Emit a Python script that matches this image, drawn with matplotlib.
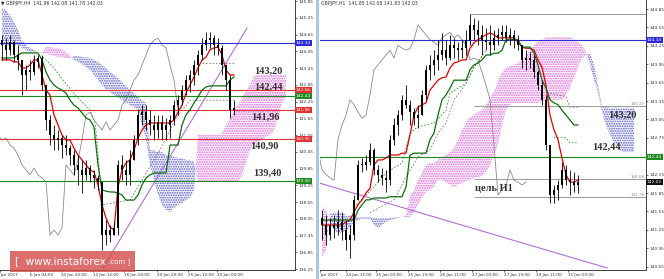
#Dos paneles GBPJPY (H4 y H1) con nube Ichimoku, al estilo de captura de MT4
import numpy as np
import matplotlib.pyplot as plt
import matplotlib.transforms as mtransforms
from matplotlib.patches import Rectangle

plt.rcParams['hatch.linewidth'] = 0.9

#----- Panel izquierdo: H4 (una vela = 8 horas) -----
left_high = [144.63, 144.52, 144.63, 144.45, 144.27, 143.74, 143.56, 143.74, 143.92, 143.92,
             143.92, 142.84, 141.77, 141.41, 141.23, 141.05, 141.05, 140.69, 140.51, 140.33,
             140.16, 140.16, 139.98, 139.80, 139.62, 137.93, 138.01, 137.83, 137.93, 140.16,
             140.33, 140.16, 140.51, 141.05, 141.95, 142.12, 142.12, 141.95, 141.77, 141.77,
             141.77, 141.66, 141.77, 142.30, 142.48, 142.84, 143.20, 143.38, 143.74, 144.10,
             144.52, 144.74, 144.74, 144.63, 144.52, 144.27, 143.56, 143.20, 142.30]
left_low = [143.74, 143.74, 143.92, 143.67, 143.38, 142.48, 142.66, 143.02, 143.20, 143.45,
            142.66, 141.23, 140.69, 140.51, 140.51, 140.23, 140.33, 139.98, 139.62, 139.26,
            138.97, 139.44, 139.37, 139.15, 139.08, 136.93, 137.11, 137.22, 137.47, 137.47,
            139.44, 139.26, 139.26, 140.16, 140.69, 141.41, 141.23, 141.05, 140.87, 140.94,
            140.87, 140.87, 140.94, 141.41, 141.77, 142.12, 142.48, 142.59, 142.84, 143.20,
            143.74, 144.10, 144.17, 143.92, 143.92, 143.20, 142.66, 141.66, 141.77]
left_close = [144.27, 144.10, 144.38, 143.92, 143.74, 143.20, 143.38, 143.31, 143.67, 143.81,
              142.84, 141.59, 141.05, 140.87, 140.94, 140.69, 140.58, 140.33, 139.98, 139.80,
              139.62, 139.87, 139.62, 139.51, 139.37, 137.47, 137.65, 137.47, 137.72, 139.98,
              139.80, 139.62, 140.16, 140.87, 141.77, 141.87, 141.59, 141.41, 141.23, 141.52,
              141.23, 141.41, 141.59, 142.12, 142.30, 142.66, 143.02, 143.20, 143.56, 143.92,
              144.27, 144.45, 144.52, 144.27, 144.17, 143.56, 143.02, 141.95, 142.03]
left_open0 = 144.45

left_tenkan = [143.74, 143.74, 143.74, 143.67, 143.67, 143.45, 143.45, 143.56, 143.74, 143.74,
               143.20, 142.66, 142.48, 141.77, 141.41, 141.05, 140.87, 140.87, 140.58, 140.33,
               140.16, 139.98, 139.80, 139.73, 139.26, 138.54, 138.08, 137.75, 137.65, 139.19,
               139.80, 140.05, 140.16, 140.51, 140.94, 141.23, 141.41, 141.48, 141.48, 141.48,
               141.48, 141.48, 141.48, 141.59, 141.87, 142.12, 142.55, 142.84, 143.13, 143.45,
               143.74, 143.84, 144.10, 144.17, 144.20, 143.92, 143.38, 143.20, 143.20]
left_kijun = [143.81, 143.81, 143.81, 143.81, 143.92, 143.99, 143.99, 143.99, 143.99, 143.99,
              143.74, 143.31, 143.02, 142.84, 142.73, 142.66, 142.55, 142.30, 142.12, 142.02,
              141.84, 141.66, 141.59, 141.34, 139.98, 139.08, 139.04, 139.01, 139.01, 138.97,
              138.90, 138.72, 138.72, 138.72, 138.90, 139.26, 139.51, 139.62, 139.69, 139.69,
              139.69, 139.69, 140.69, 140.69, 140.69, 141.41, 141.77, 141.95, 142.20, 142.41,
              142.66, 142.77, 142.81, 142.81, 142.81, 142.81, 142.81, 143.02, 143.13]
left_span_a = [144.27, 144.27, 144.27, 144.27, 144.27, 144.17, 144.10, 144.02, 144.02, 144.02,
               143.99, 144.20, 144.20, 144.17, 144.17, 144.10, 144.02, 143.88,
               143.74, 143.67, 143.59, 143.49, 143.38, 143.20, 143.02, 142.84, 142.66, 142.59,
               142.48, 142.41, 142.30, 142.20, 142.12, 142.05, 141.95, 141.41, 140.87,
               139.98, 139.44, 138.90, 138.54, 138.36, 138.29, 138.44, 138.54, 138.61, 138.72,
               138.80, 139.08,
               141.05, 141.05, 141.05, 141.05, 141.05, 141.05, 141.12, 141.41, 141.66, 141.95,
               142.12, 142.38, 142.66, 142.84, 143.16, 143.20, 143.20, 143.20, 143.20, 143.20,
               143.20, 143.20, 143.20]
left_span_b = [145.60, 145.53, 145.35, 145.10, 144.81, 144.45, 144.27, 144.17, 144.10, 144.02,
               143.95, 143.95, 143.92, 143.88, 143.84, 143.84, 143.81, 143.81,
               143.88, 143.88, 143.84, 143.84, 143.81, 143.74, 143.67, 143.56, 143.45, 143.31,
               143.20, 143.09, 142.95, 142.81, 142.66, 142.55, 142.41, 142.30, 142.20,
               140.51, 140.51, 140.44, 140.44, 140.33, 140.33, 140.26, 140.23, 140.23, 140.16,
               140.16, 140.08,
               139.37, 139.37, 139.37, 139.37, 139.37, 139.37, 139.37, 139.37, 139.37, 139.37,
               139.37, 139.62, 140.08, 140.51, 140.69, 140.80, 140.87, 140.98, 141.05, 141.23,
               141.66, 142.20, 142.44]
left_dash_green_bars = [10.25, 12.75, 15.25, 18.75, 22, 23.25, 23.75, 24.5]
left_dash_green = [143.84, 143.49, 143.02, 142.41, 141.95, 141.48, 140.87, 139.44]
left_dash_gray_bars = [24.5, 32, 35.75, 39.5, 43.25, 47, 58]
left_dash_gray = [138.54, 138.72, 139.62, 140.51, 141.59, 142.30, 142.30]
left_dash_top_bars = [50, 58]
left_dash_top = [143.63, 143.63]
left_trend_bars = [25.25, 61.25]
left_trend = [136.29, 144.88]

left_levels = [144.34, 142.66, 142.44, 141.96, 140.90, 139.40]
left_level_names = ['144.34', '142.66', '142.44', '141.96', '140.90', '139.40']
left_level_colors = ['#2a2ad8', '#e03030', '#1f8a1f', '#e03030', '#e03030', '#1f8a1f']
left_notes = ['143,20', '142,44', '141,96', '140,90', '139,40']
left_note_bars = [66.5, 66.5, 65.75, 65.5, 66.25]
left_note_prices = [143.34, 142.77, 141.69, 140.66, 139.69]

left_yticks = [136.25, 136.85, 137.45, 138.05, 138.65, 139.25, 139.85, 140.45, 141.05,
               141.65, 142.25, 142.85, 143.45, 144.05, 144.65, 145.25, 145.85]
left_xtick_bars = [-0.5, 7, 14.75, 22.75, 30.5, 38.75, 46.5, 53.75]
left_xtick_names = ['Jan 2017', '6 Jan 04:00', '10 Jan 20:00', '13 Jan 12:00',
                    '18 Jan 04:00', '20 Jan 20:00', '25 Jan 12:00', '30 Jan 04:00']

#----- Panel derecho: H1 (una vela = 2 horas) -----
right_high = [141.57, 141.49, 141.44, 141.49, 141.57, 141.54, 141.41, 141.33, 141.82, 142.39,
              142.42, 142.47, 142.67, 142.58, 142.31, 142.26, 142.23, 142.80, 143.07, 143.20,
              143.45, 143.61, 143.37, 143.24, 143.29, 143.53, 143.94, 144.10, 144.18, 144.35,
              144.46, 144.35, 144.43, 144.38, 144.31, 144.35, 144.51, 144.77, 144.70, 144.67,
              144.59, 144.54, 144.59, 144.51, 144.54, 144.59, 144.59, 144.54, 144.51, 144.43,
              144.26, 144.18, 144.15, 144.10, 143.86, 143.69, 143.45, 142.63, 141.98, 142.06,
              142.36, 142.31, 142.23, 142.19, 142.15]
right_low = [141.09, 141.00, 141.09, 141.12, 141.17, 141.09, 140.92, 140.79, 141.09, 141.74,
             142.19, 142.23, 142.31, 142.15, 142.03, 141.98, 141.87, 141.98, 142.63, 142.80,
             143.04, 143.24, 142.96, 142.96, 142.91, 143.12, 143.37, 143.69, 143.77, 143.86,
             144.02, 143.94, 144.02, 144.05, 144.02, 144.05, 144.10, 144.26, 144.35, 144.26,
             144.10, 144.18, 144.10, 144.18, 144.26, 144.35, 144.31, 144.26, 144.21, 144.18,
             143.89, 143.86, 143.89, 143.73, 143.53, 143.29, 142.55, 141.69, 141.69, 141.74,
             141.93, 141.98, 141.82, 141.87, 141.85]
right_close = [141.33, 141.17, 141.33, 141.28, 141.38, 141.25, 141.09, 141.17, 141.74, 142.31,
               142.31, 142.36, 142.55, 142.23, 142.15, 142.10, 142.06, 142.72, 142.96, 143.12,
               143.37, 143.29, 143.17, 143.07, 143.12, 143.45, 143.86, 143.94, 144.02, 144.10,
               144.18, 144.05, 144.26, 144.21, 144.18, 144.21, 144.35, 144.59, 144.51, 144.43,
               144.35, 144.31, 144.26, 144.38, 144.43, 144.47, 144.38, 144.43, 144.35, 144.26,
               144.02, 144.05, 144.02, 143.82, 143.61, 143.37, 142.63, 141.82, 141.90, 141.98,
               142.23, 142.06, 142.03, 141.98, 142.03]
right_open0 = 141.45

right_tenkan = [141.33, 141.33, 141.33, 141.33, 141.33, 141.33, 141.38, 141.41, 141.54, 141.66,
                141.74, 141.85, 141.93, 142.31, 142.39, 142.39, 142.42, 142.47, 142.47, 142.47,
                142.50, 142.50, 142.80, 143.12, 143.25, 143.29, 143.32, 143.53, 143.61, 143.69,
                143.73, 143.74, 143.89, 143.97, 143.99, 144.02, 144.02, 144.21, 144.30, 144.35,
                144.39, 144.43, 144.46, 144.43, 144.38, 144.38, 144.38, 144.38, 144.38, 144.31,
                144.23, 144.21, 144.21, 144.18, 144.02, 143.90, 143.61, 143.12, 142.88, 142.72,
                142.42, 142.15, 142.03, 142.03, 142.06]
right_kijun = [141.41, 141.41, 141.41, 141.41, 141.41, 141.41, 141.41, 141.41, 141.41, 141.57,
               141.66, 141.74, 141.74, 141.77, 141.77, 141.77, 141.77, 141.79, 141.79, 141.79,
               141.79, 141.95, 142.47, 142.50, 142.50, 142.50, 142.50, 142.72, 142.83, 143.12,
               143.37, 143.45, 143.56, 143.69, 143.69, 143.69, 143.69, 143.86, 143.94, 143.97,
               144.02, 144.10, 144.10, 144.13, 144.13, 144.18, 144.35, 144.35, 144.35, 144.35,
               144.23, 144.23, 144.23, 144.13, 143.94, 143.69, 143.56, 143.37, 143.32, 143.29,
               143.20, 143.12, 143.04, 142.96, 142.96]
right_span_a = [141.62, 141.57, 141.38, 141.25, 141.20, 141.20, 141.25, 141.28, 141.38, 141.41,
                141.43, 141.43, 141.43, 141.33, 141.28, 141.33, 141.38, 141.41, 141.43, 141.44,
                141.46, 141.49, 141.79, 141.90, 142.06, 142.19, 142.31, 142.34, 142.34, 142.39,
                142.44, 142.47, 142.52, 142.58, 142.72, 142.88, 143.01, 143.09, 143.12, 143.17,
                143.20, 143.29, 143.40, 143.50, 143.69, 143.82, 143.89, 143.92, 143.94, 143.97,
                144.02, 144.10, 144.18, 144.26, 144.33, 144.35, 144.38, 144.39, 144.39, 144.39,
                144.39, 144.39, 144.39, 144.35, 144.31, 144.26, 144.15, 143.94, 143.69, 143.50,
                143.17, 142.96, 142.80, 142.68, 142.58, 142.52, 142.52, 142.52, 142.52]
right_span_b = [140.81, 140.92, 141.51, 141.53, 141.53, 141.53, 141.49, 141.49, 141.46, 141.46,
                141.46, 141.46, 141.46, 141.44, 141.44, 141.44, 141.44, 141.44, 141.46, 141.46,
                141.46, 141.46, 141.46, 141.54, 141.66, 141.77, 141.87, 141.90, 141.95, 142.06,
                142.06, 142.03, 141.98, 141.95, 141.98, 142.01, 142.05, 142.06, 142.10, 142.11,
                142.13, 142.19, 142.31, 142.47, 142.63, 142.96, 143.20, 143.29, 143.32, 143.32,
                143.32, 143.32, 143.32, 143.32, 143.32, 143.34, 143.35, 143.37, 143.37, 143.37,
                143.37, 143.45, 143.56, 143.73, 143.89, 144.05, 144.10, 144.13, 143.94, 143.61,
                143.25, 143.25, 143.24, 143.24, 143.24, 143.24, 143.24, 143.24, 143.24]
right_dash_gray_bars = [12, 18, 21, 24, 27, 29, 31, 33, 36, 38, 41]
right_dash_gray = [141.53, 141.74, 142.11, 142.44, 142.55, 142.83, 142.99, 143.37, 143.64, 143.90, 144.18]
right_dash_green_bars = [8, 13, 16, 20, 22, 24, 28, 31, 32, 36, 38, 40]
right_dash_green = [141.62, 141.95, 142.18, 142.34, 142.83, 142.93, 142.99, 143.20, 143.48, 143.64, 143.90, 144.07]
right_dash_up_bars = [57, 61, 62, 64]
right_dash_up = [143.48, 143.42, 143.25, 143.25]
right_dash_low_bars = [58, 61, 62, 64]
right_dash_low = [142.76, 142.75, 142.67, 142.67]
right_trend_bars = [-0.5, 71.25]
right_trend = [142.01, 140.63]

right_levels = [144.34, 142.44]
right_level_colors = ['#2a2ad8', '#1f8a1f']
right_gray_levels = [144.77, 143.27, 142.08, 141.78]
right_gray_start = [37, 38, 38, 38]
right_gray_names = ['', '143.27', '142.08', '141.78']
right_tags = ['144.34', '142.44', '142.03']
right_tag_prices = [144.34, 142.44, 142.03]
right_tag_colors = ['#2a2ad8', '#1f8a1f', '#111111']
right_notes = ['143,20', '142,44', 'цель H1']
right_note_bars = [75, 71, 43]
right_note_prices = [143.12, 142.60, 141.93]

right_yticks = [140.65, 140.95, 141.25, 141.55, 141.85, 142.15, 142.75, 143.05,
                143.35, 143.65, 143.95, 144.25, 144.55, 144.85]
right_xtick_bars = [-0.5, 6, 13.5, 21.5, 29.5, 37.5, 45.5, 53.5, 61.5]
right_xtick_names = ['Jan 2017', '24 Jan 11:00', '25 Jan 03:00', '25 Jan 19:00', '26 Jan 11:00',
                     '27 Jan 03:00', '27 Jan 19:00', '30 Jan 11:00', '31 Jan 03:00']

CHIKOU_SHIFT = 13  # 26 velas originales = 13 velas de este dibujo


def velas(ax, high, low, close, open0):
    '''Dibuja velas negras finas (apertura = cierre anterior).'''
    close = np.array(close)
    x = np.arange(len(close))
    opens = np.r_[open0, close[:-1]]
    ax.vlines(x, low, high, color='black', lw=0.6, zorder=6)
    base = np.minimum(opens, close)
    alto = np.maximum(np.abs(close - opens), 0.02)
    ax.bar(x, alto, bottom=base, width=0.5, color='black', linewidth=0, zorder=6)


def nube(ax, a, b):
    '''Nube Ichimoku punteada: magenta si A > B, azul si B > A.'''
    a = np.array(a)
    b = np.array(b)
    x = np.arange(len(a))
    ax.fill_between(x, a, b, where=a >= b, interpolate=True, facecolor='none',
                    edgecolor='#dd5fdd', hatch='.......', linewidth=0, zorder=1)
    ax.fill_between(x, a, b, where=a < b, interpolate=True, facecolor='none',
                    edgecolor='#5555cc', hatch='.......', linewidth=0, zorder=1)


def etiqueta(ax, precio, texto, color):
    trans = mtransforms.blended_transform_factory(ax.transAxes, ax.transData)
    ax.text(1.003, precio, texto, transform=trans, fontsize=3.1, color='white',
            va='center', ha='left', clip_on=False, zorder=10,
            bbox=dict(boxstyle='square,pad=0.25', fc=color, ec=color, lw=0))


def ejes(ax, xlim, ylim, yticks, xbars, xnames, titulo):
    ax.set_xlim(xlim)
    ax.set_ylim(ylim)
    for s in ['left', 'top']:
        ax.spines[s].set_visible(False)
    for s in ['right', 'bottom']:
        ax.spines[s].set_linewidth(0.6)
        ax.spines[s].set_color('#222222')
    ax.yaxis.tick_right()
    ax.set_yticks(yticks)
    ax.set_yticklabels([f'{v:.2f}' for v in yticks])
    ax.set_xticks(xbars)
    ax.set_xticklabels(xnames, ha='left')
    ax.tick_params(axis='y', labelsize=3.1, length=1.5, width=0.5, pad=1, colors='#333333')
    ax.tick_params(axis='x', labelsize=3.0, length=1.5, width=0.5, pad=0.8, colors='#333333')
    ax.text(0.004, 0.997, titulo, transform=ax.transAxes, fontsize=3.3, va='top',
            ha='left', color='#333333')


def panel(ax, high, low, close, open0, tenkan, kijun, span_a, span_b):
    nube(ax, span_a, span_b)
    x = np.arange(len(close))
    ax.plot(x - CHIKOU_SHIFT, close, color='#8a8a8a', lw=0.6, zorder=2)
    ax.plot(x, tenkan, color='#e00000', lw=0.9, zorder=5)
    ax.plot(x, kijun, color='#0a700a', lw=0.9, zorder=5)
    velas(ax, high, low, close, open0)


fig = plt.figure(figsize=(6.64, 2.79), dpi=100)
ax1 = fig.add_axes([0, 9 / 279, 295 / 664, 270 / 279])
ax2 = fig.add_axes([320 / 664, 9 / 279, 326 / 664, 270 / 279])

serif = dict(family='Liberation Serif', weight='bold', fontsize=7.5, color='#333333',
             ha='center', va='center', zorder=9)

#----- Izquierdo -----
panel(ax1, left_high, left_low, left_close, left_open0,
      left_tenkan, left_kijun, left_span_a, left_span_b)
ax1.plot(left_dash_green_bars, left_dash_green, color='#2a9a2a', lw=0.6, ls=(0, (2, 2)), zorder=2)
ax1.plot(left_dash_gray_bars, left_dash_gray, color='#777777', lw=0.6, ls=(0, (2, 2)), zorder=2)
ax1.plot(left_dash_top_bars, left_dash_top, color='#777777', lw=0.6, ls=(0, (2, 2)), zorder=2)
ax1.plot(left_trend_bars, left_trend, color='#b070d8', lw=0.8, zorder=3)
for p, nombre, c in zip(left_levels, left_level_names, left_level_colors):
    ax1.axhline(p, color=c, lw=0.8, zorder=3)
    etiqueta(ax1, p, nombre, c)
for t, b, p in zip(left_notes, left_note_bars, left_note_prices):
    ax1.text(b, p, t, **serif)
ejes(ax1, (-0.5, 73.25), (136.215, 145.886), left_yticks, left_xtick_bars, left_xtick_names,
     '\u25bc GBPJPY,H4  141.96 142.08 141.78 142.03')

#----- Derecho -----
panel(ax2, right_high, right_low, right_close, right_open0,
      right_tenkan, right_kijun, right_span_a, right_span_b)
ax2.plot(right_dash_gray_bars, right_dash_gray, color='#777777', lw=0.6, ls=(0, (2, 2)), zorder=2)
ax2.plot(right_dash_green_bars, right_dash_green, color='#2a9a2a', lw=0.6, ls=(0, (2, 2)), zorder=2)
ax2.plot(right_dash_up_bars, right_dash_up, color='#777777', lw=0.6, ls=(0, (2, 2)), zorder=2)
ax2.plot(right_dash_low_bars, right_dash_low, color='#2a9a2a', lw=0.6, ls=(0, (2, 2)), zorder=2)
ax2.plot(right_trend_bars, right_trend, color='#b070d8', lw=0.8, zorder=3)
for p, c in zip(right_levels, right_level_colors):
    ax2.axhline(p, color=c, lw=0.8, zorder=3)
xmax2 = 81.0
trans2 = mtransforms.blended_transform_factory(ax2.transAxes, ax2.transData)
for p, b0, nombre in zip(right_gray_levels, right_gray_start, right_gray_names):
    ax2.hlines(p, b0, xmax2, color='#9a9a9a', lw=0.7, zorder=3)
    if nombre:
        ax2.text(0.995, p, nombre, transform=trans2, fontsize=3.0, color='#8a8a8a',
                 ha='right', va='bottom')
for t, p, c in zip(right_tags, right_tag_prices, right_tag_colors):
    etiqueta(ax2, p, t, c)
for t, b, p in zip(right_notes, right_note_bars, right_note_prices):
    ax2.text(b, p, t, **serif)
ejes(ax2, (-0.5, xmax2), (140.596, 144.997), right_yticks, right_xtick_bars, right_xtick_names,
     'GBPJPY,H1  141.85 142.08 141.83 142.03')

#separador entre ventanas
fig.add_artist(Rectangle((316 / 664, 0), 3 / 664, 1, transform=fig.transFigure,
                         fc='#a8c9e4', ec='none'))

#marca de agua
fig.add_artist(Rectangle((10 / 664, 7 / 279), 125 / 664, 21 / 279, transform=fig.transFigure,
                         fc='#d44a4a', ec='none', alpha=0.8, zorder=20))
fig.text(15 / 664, 18 / 279, '[  www.instaforex', color='white', fontsize=7.5,
         va='center', ha='left', zorder=21)
fig.text(108 / 664, 17 / 279, '.com ]', color='white', fontsize=5,
         va='center', ha='left', zorder=21)

plt.savefig('out.png', dpi=100)
